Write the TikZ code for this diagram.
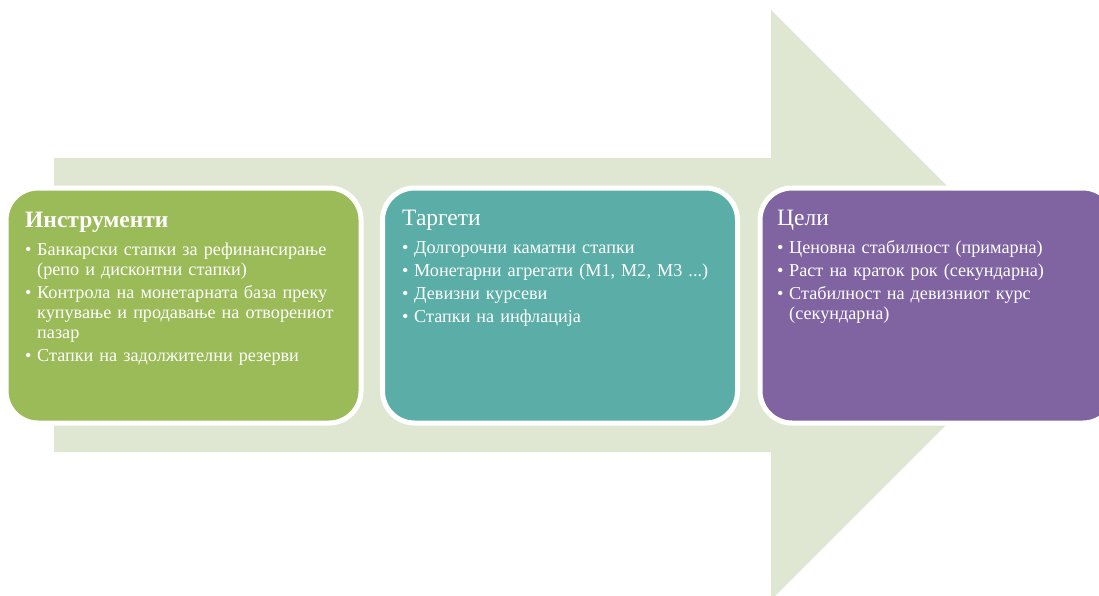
\documentclass[tikz,border=0pt]{standalone}
\usepackage{fontspec}
\setmainfont{Liberation Serif}
\usetikzlibrary{positioning}

\definecolor{arrowgreen}{HTML}{DFE7D2}
\definecolor{instrgreen}{HTML}{9BBB59}
\definecolor{targteal}{HTML}{5BAEA7}
\definecolor{goalpurple}{HTML}{8064A2}

\tikzset{
  stagebox/.style={draw=white, line width=5pt, rounded corners=32pt,
    minimum width=355pt, minimum height=235pt, inner sep=0pt},
  stagetext/.style={anchor=base west, text=white, text width=335pt,
    align=left, inner sep=0pt, font=\fontsize{18.2}{20}\selectfont},
}
\newcommand{\stagehead}[1]{{\fontsize{23.5}{26}\selectfont #1}\par\vspace{8pt}}
\newcommand{\bul}[1]{\par\hangindent=12pt\hangafter=1\noindent\makebox[12pt][l]{•}#1\par\vspace{3pt}}

\begin{document}
\begin{tikzpicture}[x=1pt,y=-1pt]
    \useasboundingbox (0,0) rectangle (1099,595);
    \clip (0,0) rectangle (1099,595);
    \fill[white] (0,0) rectangle (1099,595);

    % Big arrow behind the boxes
    \fill[arrowgreen] (54,158) -- (771,158) -- (771,10) -- (1066,305)
        -- (771,600) -- (771,452) -- (54,452) -- cycle;

    % Stages
    \node[stagebox, fill=instrgreen] (instr) at (183.5,305.5) {};
    \node[stagebox, fill=targteal] (targ) at (560,305.5) {};
    \node[stagebox, fill=goalpurple] (goal) at (937.5,305.5) {};

    % Texts
    \node[stagetext] (instrtxt) at (25,227) {%
        \stagehead{\textbf{Инструменти}}
        \bul{Банкарски стапки за рефинансирање\newline (репо и дисконтни стапки)}
        \bul{Контрола на монетарната база преку\newline купување и продавање на отворениот\newline пазар}
        \bul{Стапки на задолжителни резерви}};
    \node[stagetext] (targtxt) at (402,225) {%
        \stagehead{Таргети}
        \bul{Долгорочни каматни стапки}
        \bul{Монетарни агрегати (М1, М2, М3 ...)}
        \bul{Девизни курсеви}
        \bul{Стапки на инфлација}};
    \node[stagetext] (goaltxt) at (777,225) {%
        \stagehead{Цели}
        \bul{Ценовна стабилност (примарна)}
        \bul{Раст на краток рок (секундарна)}
        \bul{Стабилност на девизниот курс\newline (секундарна)}};
\end{tikzpicture}
\end{document}
